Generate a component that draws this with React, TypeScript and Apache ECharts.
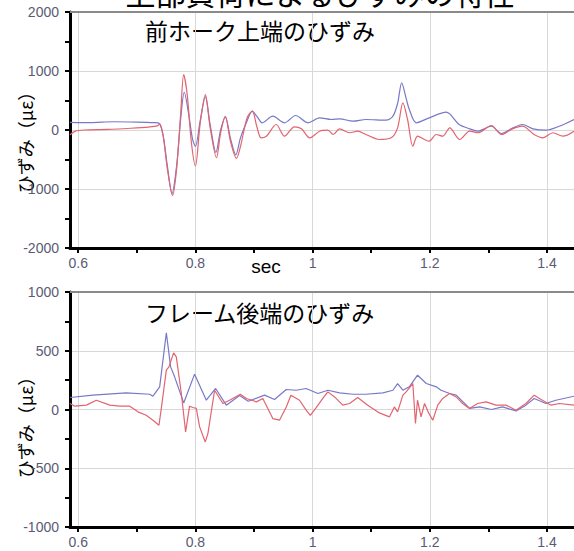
import React, { useEffect, useRef } from "react";
import * as echarts from "echarts";

const pageTitle = "上部負荷によるひずみの特性";
const topTitle = "前ホーク上端のひずみ";
const bottomTitle = "フレーム後端のひずみ";
const yName = "ひずみ（με）";
const xName = "sec";

const xMin = 0.586;
const xMax = 1.446;
const xTickValues = [0.6, 0.7, 0.8, 0.9, 1.0, 1.1, 1.2, 1.3, 1.4];
const xLabelValues = [0.6, 0.8, 1.0, 1.2, 1.4];
const xGridValues = [0.6, 0.8, 1.0, 1.2, 1.4];

const topYRange = [-2000, 2000];
const bottomYRange = [-1000, 1000];

// 前ホーク上端 — blue
const topBlueTime = [0.586, 0.62, 0.66, 0.7, 0.73, 0.738, 0.745, 0.752, 0.76, 0.768, 0.775, 0.781, 0.788, 0.795, 0.8, 0.808, 0.817, 0.825, 0.835, 0.843, 0.851, 0.86, 0.869, 0.877, 0.888, 0.897, 0.905, 0.914, 0.932, 0.952, 0.971, 0.992, 1.012, 1.032, 1.046, 1.069, 1.091, 1.125, 1.137, 1.145, 1.152, 1.16, 1.165, 1.177, 1.199, 1.228, 1.25, 1.268, 1.282, 1.305, 1.322, 1.339, 1.358, 1.376, 1.398, 1.421, 1.446];
const topBlueStrain = [130, 125, 140, 135, 125, 115, -100, -600, -1080, -600, 200, 640, 300, -150, -280, 150, 560, 100, -380, 0, 220, -150, -420, -130, 150, 320, 230, 122, 234, 122, 246, 122, 206, 178, 190, 150, 178, 166, 234, 450, 800, 520, 347, 122, 206, 302, 93, 20, -20, 64, -59, 20, 93, 20, -3, 64, 178];

// 前ホーク上端 — red
const topRedTime = [0.586, 0.595, 0.61, 0.65, 0.69, 0.72, 0.735, 0.739, 0.745, 0.752, 0.761, 0.768, 0.775, 0.78, 0.786, 0.793, 0.8, 0.808, 0.817, 0.825, 0.836, 0.843, 0.851, 0.86, 0.87, 0.877, 0.888, 0.897, 0.905, 0.912, 0.921, 0.938, 0.952, 0.969, 0.981, 0.995, 1.012, 1.026, 1.035, 1.046, 1.063, 1.077, 1.091, 1.114, 1.134, 1.145, 1.154, 1.162, 1.171, 1.179, 1.191, 1.199, 1.211, 1.222, 1.234, 1.251, 1.268, 1.282, 1.305, 1.322, 1.341, 1.358, 1.378, 1.393, 1.41, 1.427, 1.446];
const topRedStrain = [-80, -20, 0, 10, 30, 50, 70, 105, -100, -650, -1110, -650, 300, 940, 600, -200, -610, 100, 600, 50, -470, -50, 230, -200, -480, -275, 200, 320, 50, -133, -105, 93, -105, 54, 20, -133, -20, -3, -76, 20, -47, -20, -76, -161, -133, 37, 461, 178, -275, -105, -161, -190, -76, -105, 37, -161, -20, -47, 76, -76, 20, 64, -76, -133, -47, -105, -20];

// フレーム後端 — blue
const bottomBlueTime = [0.586, 0.625, 0.682, 0.722, 0.7275, 0.739, 0.7504, 0.7577, 0.7645, 0.78, 0.7986, 0.8186, 0.8345, 0.8527, 0.8754, 0.89, 0.918, 0.935, 0.955, 0.972, 0.989, 1.009, 1.026, 1.046, 1.069, 1.091, 1.12, 1.137, 1.145, 1.154, 1.165, 1.179, 1.194, 1.211, 1.219, 1.234, 1.245, 1.268, 1.285, 1.305, 1.324, 1.347, 1.364, 1.378, 1.398, 1.415, 1.446];
const bottomBlueStrain = [102, 122, 141, 130, 113, 193, 653, 363, 278, 56, 301, 79, 179, 37, 120, 70, 122, 85, 170, 164, 179, 136, 164, 141, 130, 130, 141, 164, 221, 164, 193, 292, 221, 193, 164, 136, 122, 9, 22, 0, 22, -12, 37, 94, 51, 79, 113];

// フレーム後端 — red
const bottomRedTime = [0.586, 0.594, 0.614, 0.631, 0.654, 0.671, 0.688, 0.702, 0.716, 0.7275, 0.7378, 0.7418, 0.7504, 0.7548, 0.7628, 0.7674, 0.776, 0.7833, 0.79, 0.7957, 0.8015, 0.8072, 0.8168, 0.8213, 0.8327, 0.8469, 0.8583, 0.8766, 0.887, 0.904, 0.915, 0.9236, 0.932, 0.9435, 0.955, 0.963, 0.9776, 0.989, 0.996, 1.003, 1.0174, 1.026, 1.0375, 1.0515, 1.063, 1.077, 1.094, 1.114, 1.131, 1.1395, 1.145, 1.154, 1.1596, 1.171, 1.1755, 1.179, 1.185, 1.191, 1.197, 1.205, 1.2135, 1.222, 1.2335, 1.245, 1.256, 1.2675, 1.2817, 1.296, 1.313, 1.33, 1.347, 1.364, 1.378, 1.392, 1.4068, 1.421, 1.446];
const bottomRedStrain = [51, 28, 37, 79, 37, 28, 28, -20, -49, -91, -134, 9, 335, 363, 482, 448, 136, -191, 28, 17, 9, -148, -276, -205, 164, 51, 79, 130, 94, 65, 94, 9, -77, -91, 22, 122, 79, -6, -49, -6, 94, 150, 107, 37, 51, 102, 37, -29, -63, 22, -20, 122, 150, 221, -119, 79, -63, 51, -20, -91, 37, 94, 136, 107, 51, 9, 51, 65, 37, 37, -6, 51, 122, 79, 37, 51, 37];

const BLUE = "#7878c8";
const RED = "#e2646f";
const LABEL = "#5a5a74";
const JP = '"Noto Sans CJK JP", "Noto Sans", sans-serif';
const NUM = '"Liberation Sans", Arial, sans-serif';

const pairs = (t: number[], v: number[]) => t.map((x, i) => [x, v[i]]);

function bottomXAxis(gridIndex: number) {
  return {
    type: "value",
    gridIndex,
    position: "bottom",
    min: xMin,
    max: xMax,
    axisLine: { show: true, onZero: false, lineStyle: { color: "#000", width: 3 } },
    axisTick: { show: true, length: 5, customValues: xTickValues, lineStyle: { color: "#000", width: 2 } },
    axisLabel: {
      show: true,
      customValues: xLabelValues,
      color: LABEL,
      fontSize: 14,
      fontFamily: NUM,
      margin: 8,
      formatter: (v: number) => String(Math.round(v * 10) / 10),
    },
    splitLine: { show: false },
  };
}

function topXAxis(gridIndex: number) {
  return {
    type: "value",
    gridIndex,
    position: "top",
    min: xMin,
    max: xMax,
    axisLine: { show: true, onZero: false, lineStyle: { color: "#8a8a8a", width: 2 } },
    axisTick: { show: false, customValues: xGridValues },
    axisLabel: { show: false },
    splitLine: { show: true, lineStyle: { color: "#d8d8d8", width: 1 } },
  };
}

function yAxis(gridIndex: number, range: number[], interval: number) {
  return {
    type: "value",
    gridIndex,
    min: range[0],
    max: range[1],
    interval,
    axisLine: { show: true, onZero: false, lineStyle: { color: "#000", width: 3 } },
    axisTick: { show: true, length: 5, lineStyle: { color: "#000", width: 2 } },
    minorTick: { show: true, splitNumber: 2, length: 5, lineStyle: { color: "#000", width: 2 } },
    axisLabel: {
      color: LABEL,
      fontSize: 14,
      fontFamily: NUM,
      margin: 11,
      formatter: (v: number) => String(v),
    },
    splitLine: { show: true, lineStyle: { color: "#d8d8d8", width: 1 } },
  };
}

function line(data: number[][], color: string, xAxisIndex: number, yAxisIndex: number, smooth: number | boolean) {
  return {
    type: "line",
    xAxisIndex,
    yAxisIndex,
    data,
    showSymbol: false,
    smooth,
    lineStyle: { color, width: 1.2 },
    itemStyle: { color },
    silent: true,
  };
}

const centered = { align: "center", verticalAlign: "middle", textAlign: "center", textVerticalAlign: "middle" };
const leftMid = { align: "left", verticalAlign: "middle", textAlign: "left", textVerticalAlign: "middle" };

export default function App() {
  const ref = useRef<HTMLDivElement>(null);
  useEffect(() => {
    if (!ref.current) return;
    const chart = echarts.init(ref.current, null, { renderer: "svg" });
    chart.setOption({
      animation: false,
      backgroundColor: "#fff",
      grid: [
        { left: 70, top: 12, width: 504, height: 236 },
        { left: 70, top: 292, width: 504, height: 235 },
      ],
      xAxis: [bottomXAxis(0), topXAxis(0), bottomXAxis(1), topXAxis(1)],
      yAxis: [yAxis(0, topYRange, 1000), yAxis(1, bottomYRange, 500)],
      series: [
        line(pairs(topBlueTime, topBlueStrain), BLUE, 0, 0, 0.3),
        line(pairs(topRedTime, topRedStrain), RED, 0, 0, 0.3),
        line(pairs(bottomBlueTime, bottomBlueStrain), BLUE, 2, 1, false),
        line(pairs(bottomRedTime, bottomRedStrain), RED, 2, 1, false),
      ],
      graphic: [
        {
          type: "text",
          x: 320,
          y: -8,
          style: { text: pageTitle, fontSize: 30, fontFamily: JP, fill: "#000", ...centered },
        },
        {
          type: "text",
          x: 145,
          y: 30,
          style: { text: topTitle, fontSize: 23, fontFamily: JP, fill: "#000", ...leftMid },
        },
        {
          type: "text",
          x: 145,
          y: 312,
          style: { text: bottomTitle, fontSize: 23, fontFamily: JP, fill: "#000", ...leftMid },
        },
        {
          type: "text",
          x: 25,
          y: 138,
          rotation: Math.PI / 2,
          style: { text: yName, fontSize: 18, fontFamily: JP, fill: "#000", ...centered },
        },
        {
          type: "text",
          x: 25,
          y: 423,
          rotation: Math.PI / 2,
          style: { text: yName, fontSize: 18, fontFamily: JP, fill: "#000", ...centered },
        },
        {
          type: "text",
          x: 266,
          y: 266,
          style: { text: xName, fontSize: 19, fontFamily: NUM, fill: "#000", ...centered },
        },
      ],
    });
    return () => chart.dispose();
  }, []);
  return <div ref={ref} style={{ position: "absolute", left: 0, top: 0, width: 574, height: 551 }} />;
}
